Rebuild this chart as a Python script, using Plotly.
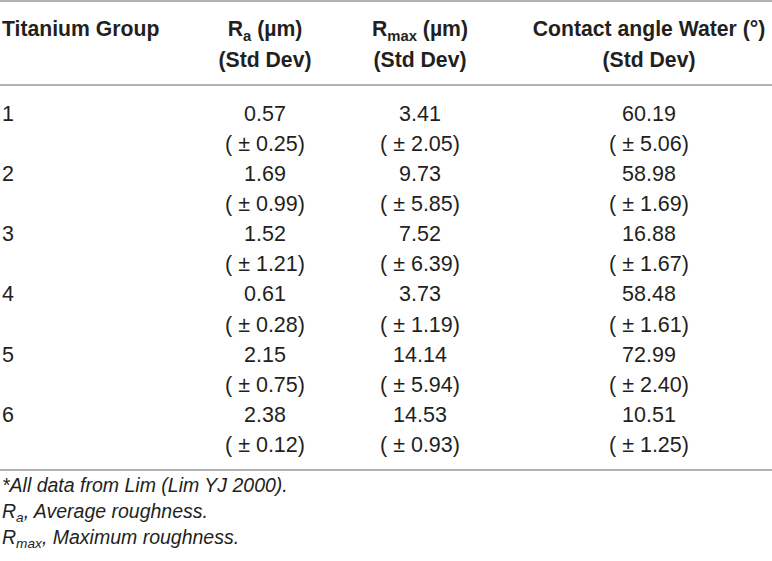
import plotly.graph_objects as go

# table data
groups = ["1", "2", "3", "4", "5", "6"]
ra = [0.57, 1.69, 1.52, 0.61, 2.15, 2.38]
ra_sd = [0.25, 0.99, 1.21, 0.28, 0.75, 0.12]
rmax = [3.41, 9.73, 7.52, 3.73, 14.14, 14.53]
rmax_sd = [2.05, 5.85, 6.39, 1.19, 5.94, 0.93]
angle = [60.19, 58.98, 16.88, 58.48, 72.99, 10.51]
angle_sd = [5.06, 1.69, 1.67, 1.61, 2.40, 1.25]

headers = [
    ["<b>Titanium Group</b>", ""],
    ["<b>R<sub>a</sub> (µm)</b>", "<b>(Std Dev)</b>"],
    ["<b>R<sub>max</sub> (µm)</b>", "<b>(Std Dev)</b>"],
    ["<b>Contact angle Water (°)</b>", "<b>(Std Dev)</b>"],
]
footnotes = [
    "<i>*All data from Lim (Lim YJ 2000).</i>",
    "<i>R<sub>a</sub>, Average roughness.</i>",
    "<i>R<sub>max</sub>, Maximum roughness.</i>",
]

W, H = 772, 561
FONT = "Liberation Sans, Arial, sans-serif"
INK = "#231f20"
RULE = "#9a9a9a"

# axes are in pixels, so positions below are page pixels
col_x = [2, 265, 420, 649]
head_y = [31, 62]
row0, step = 115.5, 30.1
foot_y = [487, 513, 539]

fig = go.Figure()


def add_text(xs, ys, texts, pos, size=21.5):
    fig.add_trace(go.Scatter(
        x=xs, y=ys, text=texts, mode="text",
        textposition=pos,
        textfont=dict(family=FONT, size=size, color=INK),
        hoverinfo="skip", showlegend=False, cliponaxis=False,
    ))


# header
for i, (l1, l2) in enumerate(headers):
    pos = "middle right" if i == 0 else "middle center"
    add_text([col_x[i]] * 2, head_y, [l1, l2], pos, size=21.2)

# body
val_y = [row0 + 2 * i * step for i in range(len(groups))]
sd_y = [y + step for y in val_y]
add_text([col_x[0]] * len(groups), val_y, groups, "middle right")
for j, (vals, sds) in enumerate([(ra, ra_sd), (rmax, rmax_sd), (angle, angle_sd)]):
    x = col_x[j + 1]
    add_text([x] * len(vals), val_y, [f"{v:.2f}" for v in vals], "middle center")
    add_text([x] * len(sds), sd_y, [f"( ± {s:.2f})" for s in sds], "middle center")

# footnotes
add_text([col_x[0]] * 3, foot_y, footnotes, "middle right", size=19.5)

# rules
for y in [1, 85, 470]:
    fig.add_shape(type="line", x0=0, x1=W, y0=y, y1=y,
                  line=dict(color=RULE, width=1.5))

fig.update_layout(
    width=W, height=H,
    margin=dict(l=0, r=0, t=0, b=0),
    paper_bgcolor="white", plot_bgcolor="white",
    xaxis=dict(range=[0, W], visible=False, fixedrange=True),
    yaxis=dict(range=[H, 0], visible=False, fixedrange=True),
)

# drop the default body margin so the figure sits at the page corner
fig.write_html(
    "out.html",
    config={"displayModeBar": False},
    post_script="document.body.style.margin = '0';",
)
